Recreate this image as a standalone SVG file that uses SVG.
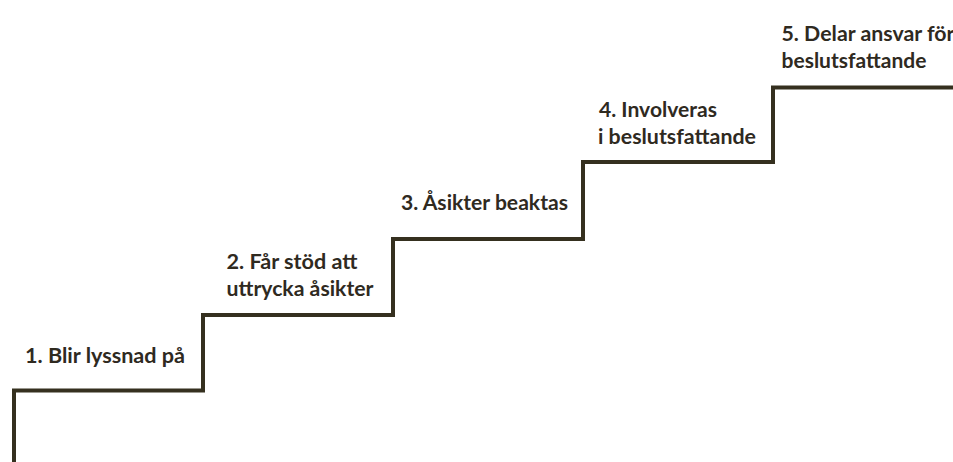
<svg xmlns="http://www.w3.org/2000/svg" width="953" height="462" viewBox="0 0 953 462">
<style>
  .lbl { font-family: Lato, "Open Sans", "Liberation Sans", sans-serif; font-weight: 700; font-size: 20px; fill: #2f2a1f; }
  .stair { fill: none; stroke: #35301f; stroke-width: 4; stroke-linejoin: miter; stroke-linecap: butt; }
</style>
<rect width="953" height="462" fill="#ffffff"/>
<g id="connectors">
  <path class="stair" d="M14 462 V390.5 H203 V315 H393 V239 H583 V162 H773 V87.5 H955"/>
</g>
<g id="step1">
  <text class="lbl" x="25" y="363" textLength="160" lengthAdjust="spacingAndGlyphs">1. Blir lyssnad på</text>
</g>
<g id="step2">
  <text class="lbl" x="226.5" y="269" textLength="131" lengthAdjust="spacingAndGlyphs">2. Får stöd att</text>
  <text class="lbl" x="226.5" y="296" textLength="147" lengthAdjust="spacingAndGlyphs">uttrycka åsikter</text>
</g>
<g id="step3">
  <text class="lbl" x="401" y="210" textLength="167" lengthAdjust="spacingAndGlyphs">3. Åsikter beaktas</text>
</g>
<g id="step4">
  <text class="lbl" x="599" y="117" textLength="118" lengthAdjust="spacingAndGlyphs">4. Involveras</text>
  <text class="lbl" x="598" y="143.5" textLength="158" lengthAdjust="spacingAndGlyphs">i beslutsfattande</text>
</g>
<g id="step5">
  <text class="lbl" x="781.5" y="41" textLength="173" lengthAdjust="spacingAndGlyphs">5. Delar ansvar för</text>
  <text class="lbl" x="781.5" y="67.5" textLength="145" lengthAdjust="spacingAndGlyphs">beslutsfattande</text>
</g>
</svg>
